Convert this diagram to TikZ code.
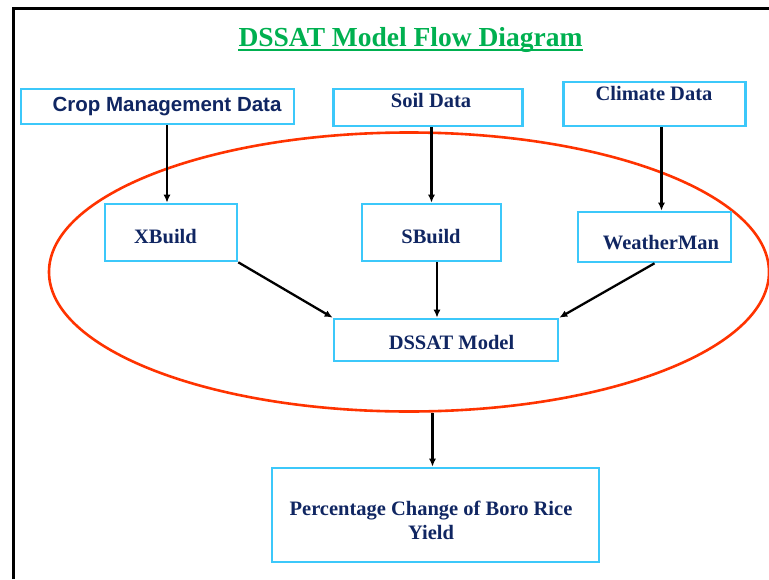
\documentclass[tikz,border=0pt]{standalone}
\usepackage{fontspec}
\setmainfont{Liberation Serif}
\setsansfont{Liberation Sans}
\usetikzlibrary{shapes,arrows,arrows.meta}
\usetikzlibrary{positioning}
\usetikzlibrary{calc}
\definecolor{boxblue}{RGB}{60,200,250}
\definecolor{txtnavy}{RGB}{16,38,98}
\definecolor{ringred}{RGB}{255,51,0}
\definecolor{ttlgreen}{RGB}{0,176,80}
\tikzstyle{box} = [draw=boxblue, line width=2.6pt, rectangle, inner sep=0pt]
\tikzstyle{lbl} = [text=txtnavy, font=\fontsize{20.5}{24}\selectfont\bfseries,
anchor=base, inner sep=0pt]
\tikzstyle{line} = [draw, -{Latex[length=8pt,width=7pt]}, line width=2.3pt]

\begin{document}
\begin{tikzpicture}[x=1pt, y=-1pt,
	lblsf/.style={lbl, font=\fontsize{20.5}{24}\selectfont\sffamily\bfseries},
	title/.style={text=ttlgreen, font=\fontsize{27.5}{30}\selectfont\bfseries,
		anchor=base, inner sep=0pt}]
    \useasboundingbox (0,0) rectangle (769,579);
    \draw [line width=3pt] (13,579) -- (13,8) -- (769,8);
    \node [title] (title) at (410.5,46) {DSSAT Model Flow Diagram};
    \draw [ttlgreen, line width=2.5pt] ([yshift=-4pt]title.base west) -- ([yshift=-4pt]title.base east);
    %% the ring
    \node [draw=ringred, line width=2.6pt, ellipse, inner sep=0pt,
    	minimum width=720pt, minimum height=279pt] (ring) at (409,272) {};
    %% boxes
    \node [box, minimum width=273pt, minimum height=35pt] (crop) at (157.5,106.5) {};
    \node [box, minimum width=189pt, minimum height=37pt] (soil) at (428,107.5) {};
    \node [box, minimum width=182pt, minimum height=44pt] (clim) at (654.5,104) {};
    \node [box, minimum width=132pt, minimum height=57pt] (xb) at (171,232.5) {};
    \node [box, minimum width=139pt, minimum height=57pt] (sb) at (431.5,232.5) {};
    \node [box, minimum width=153pt, minimum height=50pt] (wm) at (654.5,237) {};
    \node [box, minimum width=224pt, minimum height=42pt] (model) at (446,340) {};
    \node [box, minimum width=327pt, minimum height=94pt] (yield) at (435.5,515) {};
    %% texts
    \node [lblsf] (croptxt) at (167,111) {Crop Management Data};
    \node [lbl] (soiltxt) at (431,107) {Soil Data};
    \node [lbl] (climtxt) at (654,100) {Climate Data};
    \node [lbl] (xbtxt) at (165.5,243) {XBuild};
    \node [lbl] (sbtxt) at (431,243) {SBuild};
    \node [lbl] (wmtxt) at (661,249) {WeatherMan};
    \node [lbl] (modeltxt) at (451.5,349) {DSSAT Model};
    \node [lbl] (yieldtxt) at (431,515) {Percentage Change of Boro Rice};
    \node [lbl] (yieldtxt2) at (431,539) {Yield};
	%% Arrows
    \path [line] ($(xb.north |- crop.south)+(-4,0)$) -- ($(xb.north)+(-4,0)$);
    \path [line] (sb.north |- soil.south) -- (sb.north);
    \path [line] ($(wm.north |- clim.south)+(7,0)$) -- ($(wm.north)+(7,0)$);
    \path [line] (xb.south east) -- (model.north west);
    \path [line] ($(model.north |- sb.south)+(-9,0)$) -- ($(model.north)+(-9,0)$);
    \path [line] (wm.south) -- (model.north east);
    \path [line] ($(yield.north |- ring.south)+(-3,0)$) -- ($(yield.north)+(-3,0)$);
\end{tikzpicture}
\end{document}
